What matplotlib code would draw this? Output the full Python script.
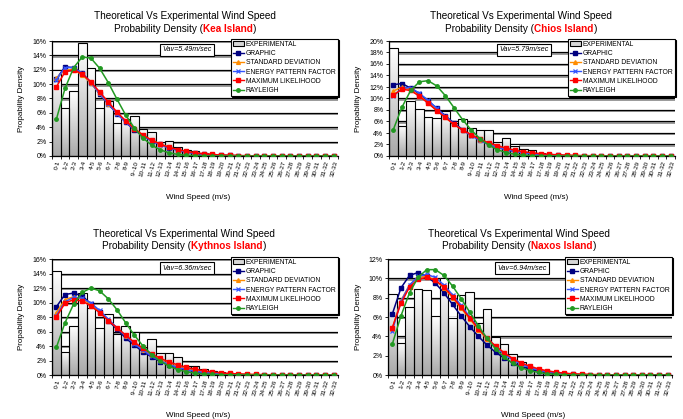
import numpy as np
import matplotlib
matplotlib.use('Agg')
import matplotlib.pyplot as plt
import matplotlib.transforms as mtransforms
from matplotlib.colors import LinearSegmentedColormap
from matplotlib.patches import Rectangle
from matplotlib.lines import Line2D
from matplotlib.ticker import PercentFormatter, FixedLocator
from matplotlib.offsetbox import TextArea, HPacker, AnchoredOffsetbox

plt.rcParams['font.family'] = ['Liberation Sans', 'DejaVu Sans']

categories = ['0-1', '1-2', '2-3', '3-4', '4-5', '5-6', '6-7', '7-8', '8-9', '9--10',
              '10-11', '11-12', '12-13', '13-14', '14-15', '15-16', '16-17', '17-18',
              '18-19', '19-20', '20-21', '21-22', '22-23', '23-24', '24-25', '25-26',
              '26-27', '27-28', '28-29', '29-30', '30-31', '31-32', '32-33']
series_names = ['GRAPHIC', 'STANDARD DEVIATION', 'ENERGY PATTERN FACTOR',
                'MAXIMUM LIKELIHOOD', 'RAYLEIGH']

# Kea island (values in %)
kea_exp = [11.9, 6.7, 9.0, 15.7, 12.2, 6.7, 7.6, 4.6, 5.2, 5.5, 3.7,
           3.4, 2.0, 2.1, 1.2, 0.8, 0.75, 0.35, 0.2, 0.1, 0.05, 0.03,
           0.02, 0.01, 0, 0, 0, 0, 0, 0, 0, 0, 0]
kea_graphic = [10.7, 12.4, 12.3, 11.5, 10.2, 8.6, 7.2, 5.9, 4.7, 3.6, 2.8,
               2.1, 1.6, 1.15, 0.8, 0.55, 0.38, 0.25, 0.16, 0.1, 0.07, 0.04,
               0.03, 0.02, 0.01, 0.01, 0, 0, 0, 0, 0, 0, 0]
kea_std = [10.8, 12.0, 12.0, 11.3, 10.1, 8.7, 7.3, 6.0, 4.8, 3.8, 2.9,
           2.2, 1.65, 1.2, 0.85, 0.6, 0.42, 0.28, 0.19, 0.12, 0.08, 0.05,
           0.03, 0.02, 0.01, 0.01, 0, 0, 0, 0, 0, 0, 0]
kea_epf = [10.6, 12.3, 12.3, 11.5, 10.2, 8.7, 7.3, 5.9, 4.7, 3.7, 2.8,
           2.1, 1.55, 1.1, 0.8, 0.55, 0.38, 0.25, 0.16, 0.1, 0.06, 0.04,
           0.02, 0.01, 0.01, 0, 0, 0, 0, 0, 0, 0, 0]
kea_mle = [9.6, 11.7, 12.0, 11.4, 10.3, 8.9, 7.5, 6.1, 4.9, 3.8, 2.9,
           2.2, 1.65, 1.2, 0.9, 0.63, 0.45, 0.31, 0.21, 0.14, 0.09, 0.06,
           0.04, 0.02, 0.01, 0.01, 0, 0, 0, 0, 0, 0, 0]
kea_ray = [5.1, 9.4, 12.3, 13.8, 13.6, 12.2, 10.2, 7.9, 5.7, 3.9, 2.5,
           1.5, 0.85, 0.45, 0.22, 0.1, 0.05, 0.02, 0.01, 0, 0, 0,
           0, 0, 0, 0, 0, 0, 0, 0, 0, 0, 0]

# Chios island
chios_exp = [18.8, 5.3, 9.6, 8.1, 6.7, 6.6, 7.8, 5.8, 6.5, 4.9, 4.6,
             4.5, 2.5, 3.1, 1.8, 1.2, 1.0, 0.5, 0.3, 0.2, 0.1, 0.05,
             0.03, 0.02, 0.01, 0, 0, 0, 0, 0, 0, 0, 0]
chios_graphic = [12.4, 12.6, 11.8, 10.8, 9.6, 8.3, 7.0, 5.7, 4.6, 3.6, 2.8,
                 2.1, 1.55, 1.1, 0.8, 0.55, 0.37, 0.24, 0.15, 0.1, 0.06, 0.04,
                 0.02, 0.01, 0.01, 0, 0, 0, 0, 0, 0, 0, 0]
chios_std = [11.3, 12.0, 11.5, 10.5, 9.3, 8.0, 6.7, 5.5, 4.5, 3.6, 2.8,
             2.1, 1.6, 1.2, 0.85, 0.6, 0.42, 0.29, 0.19, 0.13, 0.08, 0.05,
             0.03, 0.02, 0.01, 0.01, 0, 0, 0, 0, 0, 0, 0]
chios_epf = [10.4, 11.8, 11.9, 10.9, 9.7, 8.3, 6.9, 5.6, 4.5, 3.5, 2.7,
             2.0, 1.5, 1.1, 0.8, 0.55, 0.38, 0.26, 0.17, 0.11, 0.07, 0.04,
             0.02, 0.01, 0.01, 0, 0, 0, 0, 0, 0, 0, 0]
chios_mle = [10.6, 11.6, 11.4, 10.4, 9.2, 7.9, 6.7, 5.5, 4.5, 3.7, 2.9,
             2.3, 1.8, 1.35, 1.0, 0.75, 0.55, 0.4, 0.28, 0.2, 0.14, 0.1,
             0.07, 0.05, 0.03, 0.02, 0.01, 0.01, 0, 0, 0, 0, 0]
chios_ray = [4.6, 8.5, 11.4, 12.9, 13.1, 12.2, 10.5, 8.4, 6.3, 4.5, 3.0,
             1.9, 1.1, 0.6, 0.3, 0.15, 0.07, 0.03, 0.01, 0, 0, 0,
             0, 0, 0, 0, 0, 0, 0, 0, 0, 0, 0]

# Kythnos island
kyth_exp = [14.3, 3.2, 6.8, 11.3, 9.2, 6.5, 8.4, 5.6, 6.8, 5.9, 3.9,
            4.9, 3.1, 3.0, 2.5, 1.25, 1.3, 0.8, 0.6, 0.35, 0.2, 0.1,
            0.05, 0.03, 0.01, 0, 0, 0, 0, 0, 0, 0, 0]
kyth_graphic = [9.4, 11.1, 11.3, 10.9, 9.8, 8.7, 7.5, 6.3, 5.1, 4.1, 3.2,
                2.5, 1.85, 1.4, 1.0, 0.7, 0.5, 0.33, 0.22, 0.14, 0.09, 0.06,
                0.04, 0.02, 0.01, 0.01, 0, 0, 0, 0, 0, 0, 0]
kyth_std = [8.6, 10.4, 10.8, 10.5, 9.7, 8.7, 7.6, 6.5, 5.4, 4.4, 3.5,
            2.7, 2.05, 1.55, 1.15, 0.83, 0.6, 0.42, 0.29, 0.2, 0.13, 0.09,
            0.06, 0.04, 0.02, 0.01, 0.01, 0, 0, 0, 0, 0, 0]
kyth_epf = [8.2, 10.1, 10.7, 10.6, 9.9, 8.9, 7.7, 6.5, 5.4, 4.3, 3.4,
            2.6, 1.95, 1.45, 1.05, 0.75, 0.52, 0.36, 0.24, 0.16, 0.1, 0.06,
            0.04, 0.02, 0.01, 0.01, 0, 0, 0, 0, 0, 0, 0]
kyth_mle = [8.0, 9.9, 10.4, 10.2, 9.5, 8.6, 7.5, 6.5, 5.5, 4.5, 3.7,
            2.9, 2.3, 1.8, 1.4, 1.05, 0.8, 0.58, 0.42, 0.3, 0.21, 0.15,
            0.1, 0.07, 0.05, 0.03, 0.02, 0.01, 0.01, 0, 0, 0, 0]
kyth_ray = [3.8, 7.2, 9.8, 11.4, 12.0, 11.6, 10.5, 9.0, 7.2, 5.5, 4.0,
            2.8, 1.9, 1.2, 0.75, 0.45, 0.26, 0.14, 0.07, 0.04, 0.02, 0.01,
            0, 0, 0, 0, 0, 0, 0, 0, 0, 0, 0]

# Naxos island
naxos_exp = [8.4, 3.35, 7.0, 8.9, 8.8, 6.1, 10.0, 5.9, 8.3, 8.6, 5.4,
             6.8, 3.9, 3.2, 2.15, 1.3, 0.85, 0.5, 0.4, 0.2, 0.1, 0.05,
             0.03, 0.01, 0, 0, 0, 0, 0, 0, 0, 0, 0]
naxos_graphic = [6.3, 9.0, 10.3, 10.6, 10.2, 9.5, 8.5, 7.3, 6.1, 5.0, 4.0,
                 3.1, 2.35, 1.75, 1.25, 0.88, 0.6, 0.4, 0.26, 0.16, 0.1, 0.06,
                 0.04, 0.02, 0.01, 0, 0, 0, 0, 0, 0, 0, 0]
naxos_std = [4.8, 7.7, 9.3, 10.1, 10.2, 9.8, 9.0, 8.0, 6.9, 5.8, 4.7,
             3.7, 2.9, 2.2, 1.6, 1.15, 0.8, 0.55, 0.37, 0.24, 0.15, 0.1,
             0.06, 0.04, 0.02, 0.01, 0, 0, 0, 0, 0, 0, 0]
naxos_epf = [4.6, 7.6, 9.3, 10.2, 10.4, 10.1, 9.3, 8.3, 7.2, 6.0, 4.9,
             3.8, 2.9, 2.15, 1.55, 1.1, 0.75, 0.5, 0.32, 0.2, 0.12, 0.07,
             0.04, 0.02, 0.01, 0, 0, 0, 0, 0, 0, 0, 0]
naxos_mle = [4.9, 7.4, 9.1, 9.9, 10.1, 9.8, 9.1, 8.1, 7.0, 5.9, 4.8,
             3.8, 3.0, 2.3, 1.7, 1.25, 0.9, 0.63, 0.43, 0.29, 0.19, 0.12,
             0.08, 0.05, 0.03, 0.02, 0.01, 0, 0, 0, 0, 0, 0]
naxos_ray = [3.2, 6.1, 8.5, 10.1, 10.9, 10.9, 10.3, 9.2, 7.9, 6.5, 5.1,
             3.8, 2.7, 1.85, 1.2, 0.75, 0.45, 0.26, 0.14, 0.07, 0.03, 0.01,
             0, 0, 0, 0, 0, 0, 0, 0, 0, 0, 0]

W, H = 683, 419
fig = plt.figure(figsize=(W / 100, H / 100), dpi=100)

styles = [dict(color='#000080', marker='s', ms=2.5),
          dict(color='#ff8c00', marker='^', ms=2.7),
          dict(color='#3355ff', marker='x', ms=2.7, mew=0.9),
          dict(color='#ff0000', marker='s', ms=2.5),
          dict(color='#229922', marker='o', ms=2.5)]
bar_cmap = LinearSegmentedColormap.from_list('bargrad', ['#ffffff', '#a9a9a9'])
grad = np.linspace(0, 1, 64).reshape(-1, 1)


def px_axes(left, right, top, bottom):
    return fig.add_axes([left / W, 1 - bottom / H, (right - left) / W, (bottom - top) / H])


def draw_panel(box, island, exp, fits, ymax, vav, title_x, title_y, ylab_x, xlab_x, xlab_y):
    ax = px_axes(*box)
    n = len(categories)
    x = np.arange(n) + 0.5

    # grid lines with a grey drop shadow
    shadow_tr = mtransforms.offset_copy(ax.get_yaxis_transform(), fig=fig, x=0, y=-1.4, units='dots')
    for yv in np.arange(2, ymax + 1, 2):
        ax.plot([0, 1], [yv, yv], transform=shadow_tr, color='#9a9a9a', lw=1.4, zorder=0.5)
        ax.axhline(yv, color='black', lw=0.9, zorder=0.6)

    # experimental bars with vertical gradient
    for xi, h in zip(x, exp):
        if h <= 0:
            continue
        ax.imshow(grad, extent=(xi - 0.5, xi + 0.5, 0, h), aspect='auto',
                  cmap=bar_cmap, zorder=2, interpolation='bilinear')
    ax.bar(x, exp, width=1.0, facecolor='none', edgecolor='black', lw=0.8, zorder=3)

    for vals, st in zip(fits, styles):
        ax.plot(x, vals, lw=1.1, zorder=4, **st)

    ax.set_xlim(0, n)
    ax.set_ylim(0, ymax)
    ax.set_facecolor('white')
    ax.yaxis.set_major_locator(FixedLocator(np.arange(0, ymax + 1, 2)))
    ax.yaxis.set_major_formatter(PercentFormatter(decimals=0))
    ax.xaxis.set_major_locator(FixedLocator(np.arange(0, n + 1)))
    ax.xaxis.set_major_formatter(plt.NullFormatter())
    ax.set_xticks(x, minor=True)
    ax.set_xticklabels(categories, minor=True, rotation=75, ha='right', va='top',
                       rotation_mode='anchor', fontsize=4.6)
    ax.tick_params(axis='x', which='minor', length=0, pad=3)
    ax.tick_params(axis='x', which='major', length=2.5, width=0.6)
    ax.tick_params(axis='y', length=2.5, width=0.6, labelsize=5, pad=1.5)
    for side in ['top', 'right']:
        ax.spines[side].set_visible(False)
    ax.spines['left'].set_linewidth(0.9)
    ax.spines['bottom'].set_linewidth(0.9)

    ax.text(0.385, 0.922, vav, transform=ax.transAxes, fontsize=5.1, style='italic',
            ha='left', va='center', zorder=6,
            bbox=dict(boxstyle='square,pad=0.35', facecolor='white', edgecolor='black', lw=0.8))

    handles = [Rectangle((0, 0), 1, 1, facecolor='#d8d8d8', edgecolor='black', lw=0.8)]
    for st in styles:
        handles.append(Line2D([], [], lw=1.0, **st))
    leg = ax.legend(handles, ['EXPERIMENTAL'] + series_names, loc='upper right',
                    bbox_to_anchor=(1.0, 1.02), fontsize=4.9, frameon=True, fancybox=False,
                    edgecolor='black', framealpha=1, handlelength=1.6, handletextpad=0.3,
                    labelspacing=0.32, borderpad=0.35, borderaxespad=0,
                    shadow={'ox': 0.8, 'oy': -0.8, 'color': 'black', 'alpha': 1})
    leg.get_frame().set_linewidth(0.8)
    leg.set_zorder(7)

    fig.text(title_x / W, 1 - title_y[0] / H, 'Theoretical Vs Experimental Wind Speed',
             ha='center', va='center', fontsize=7.2)
    parts = [TextArea('Probability Density (', textprops=dict(fontsize=7.2, color='black')),
             TextArea(island, textprops=dict(fontsize=7.2, color='red', fontweight='bold')),
             TextArea(')', textprops=dict(fontsize=7.2, color='black'))]
    pack = HPacker(children=parts, align='baseline', pad=0, sep=0)
    anchored = AnchoredOffsetbox(loc='center', child=pack, frameon=False, pad=0, borderpad=0,
                                 bbox_to_anchor=(title_x / W, 1 - title_y[1] / H),
                                 bbox_transform=fig.transFigure)
    fig.add_artist(anchored)

    fig.text(ylab_x / W, 1 - (box[2] + box[3]) / 2 / H, 'Propability Density',
             rotation=90, ha='center', va='center', fontsize=5.8)
    fig.text(xlab_x / W, 1 - xlab_y / H, 'Wind Speed (m/s)', ha='center', va='center',
             fontsize=5.8)
    return ax


draw_panel((52, 338, 41, 156), 'Kea Island', kea_exp,
           [kea_graphic, kea_std, kea_epf, kea_mle, kea_ray], 16, 'Vav=5.49m/sec',
           185, (16, 29), 22, 198, 197)
draw_panel((389, 675, 41, 156), 'Chios Island', chios_exp,
           [chios_graphic, chios_std, chios_epf, chios_mle, chios_ray], 20, 'Vav=5.79m/sec',
           521, (16, 29), 358, 536, 197)
draw_panel((52, 338, 259, 375), 'Kythnos Island', kyth_exp,
           [kyth_graphic, kyth_std, kyth_epf, kyth_mle, kyth_ray], 16, 'Vav=6.36m/sec',
           184, (234, 246), 22, 198, 415)
draw_panel((388, 672, 259, 375), 'Naxos Island', naxos_exp,
           [naxos_graphic, naxos_std, naxos_epf, naxos_mle, naxos_ray], 12, 'Vav=6.94m/sec',
           519, (234, 246), 358, 533, 415)

fig.savefig('out.png', dpi=100)
